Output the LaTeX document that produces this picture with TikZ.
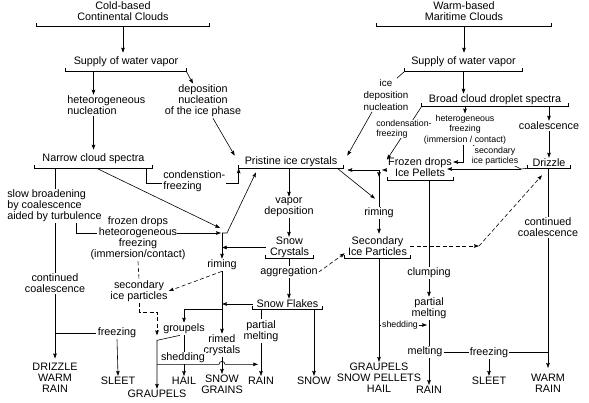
\documentclass[tikz,border=0pt]{standalone}
\usepackage{fontspec}
\setmainfont{Liberation Sans}
\usetikzlibrary{arrows.meta}

\newcommand{\brk}[1]{\draw ([yshift=3pt]#1.south west) -- (#1.south west) -- (#1.south east) -- ([yshift=3pt]#1.south east);}

\begin{document}
\begin{tikzpicture}[x=1pt,y=-1pt,line width=0.6pt,>={Stealth[length=5pt,width=3.6pt,inset=0.8pt]},
  every node/.style={inner sep=1pt,align=center,font=\fontsize{10.8}{11}\selectfont},
  small/.style={font=\fontsize{8.8}{10.5}\selectfont},
  mid/.style={font=\fontsize{9.8}{12}\selectfont},
  onl/.style={fill=white},
  dsh/.style={dash pattern=on 4pt off 2.5pt}]
\useasboundingbox (0,0) rectangle (589,403);

\node [minimum width=172pt,inner ysep=5pt] (cold) at (123,11.5) {Cold-based\\Continental Clouds};
\brk{cold}
\node [minimum width=120pt,inner ysep=4pt] (sup1) at (126,62) {Supply of water vapor};
\brk{sup1}
\node [anchor=west,align=left] (het1) at (66,105.5) {heteorogeneous\\nucleation};
\node (dep1) at (203,101) {deposition\\nucleation\\of the ice phase};
\node [minimum width=117pt,inner ysep=4pt] (nar) at (93.5,159) {Narrow cloud spectra};
\brk{nar}
\node [anchor=west,align=left] (cf) at (162,181) {condenstion-\\freezing};
\node [anchor=west,align=left] (slow) at (6,206) {slow broadening\\by coalescence\\aided by turbulence};
\node (cc1) at (55,283.5) {continued\\coalescence};
\node (dwr) at (55,377.5) {DRIZZLE\\WARM\\RAIN};
\node (fz1) at (117,333) {freezing};
\node (sleet1) at (118,381) {SLEET};
\node (fdh) at (138,238.5) {frozen drops\\heteorogeneous\\freezing\\(immersion/contact)};
\node (secL) at (139,291) {secondary\\ice particles};
\node (graupL) at (157,394) {GRAUPELS};
\node (grp) at (184,329) {groupels};
\node (hail) at (184,381) {HAIL};
\node (rimL) at (222,265) {riming};
\node (rc) at (222,345.5) {rimed\\crystals};
\node (sng) at (222,384.5) {SNOW\\GRAINS};
\node (pmL) at (261,331) {partial\\melting};
\node (rainL) at (261,381) {RAIN};
\node [minimum width=104pt,inner ysep=1pt] (pri) at (291,162) {Pristine ice crystals};
\brk{pri}
\node (vd) at (289,207.5) {vapor\\deposition};
\node [minimum width=47pt,inner ysep=0pt] (sc) at (289.5,247.5) {Snow\\Crystals};
\brk{sc}
\node [minimum width=69pt,inner ysep=1pt] (sf) at (287.5,304) {Snow Flakes};
\brk{sf}
\node (snow) at (314,381) {SNOW};

\node [minimum width=174pt,inner ysep=5pt] (warm) at (464,11.5) {Warm-based\\Maritime Clouds};
\brk{warm}
\node [minimum width=117pt,inner ysep=4pt] (sup2) at (463.5,62) {Supply of water vapor};
\brk{sup2}
\node [mid] (idn) at (386,95) {ice\\deposition\\nucleation};
\node [minimum width=146pt,inner ysep=1pt] (bcs) at (495,100) {Broad cloud droplet spectra};
\brk{bcs}
\node (coal) at (549,126) {coalescence};
\node [minimum width=42pt,inner ysep=1pt] (drz) at (549,163) {Drizzle};
\brk{drz}
\node [minimum width=64pt,inner ysep=3.5pt] (fdi) at (420,167) {Frozen drops\\Ice Pellets};
\brk{fdi}
\node (rimR) at (379,213) {riming};
\node [minimum width=65pt,inner ysep=2.5pt] (sip) at (377.5,246) {Secondary\\Ice Particles};
\brk{sip}
\node (pmR) at (429,308.5) {partial\\melting};
\node (gsh) at (379,378) {GRAUPELS\\SNOW PELLETS\\HAIL};
\node (rainR) at (429,390) {RAIN};
\node (sleetR) at (489,381) {SLEET};
\node (wr) at (548,383.5) {WARM\\RAIN};

\coordinate (jL) at (222,233);
\coordinate (jR) at (379,170);
\coordinate (jD) at (521,169);
\coordinate (kD) at (479,246);
\coordinate (shd) at (400,325);

\draw[->]  (cold.south)  --  (cold.south |- sup1.north);
\draw[->]  (nar.north |- sup1.south)  --  (nar.north |- het1.north);
\draw[->]  (sup1.south east)  --  ([xshift=-10pt]dep1.north);
\draw[->]  (nar.north |- het1.south)  --  (nar.north);
\draw[->]  ([xshift=10pt]dep1.south)  --  ([xshift=-4pt]pri.north west);
\draw  ([xshift=-6pt]nar.south east)  |-  ([yshift=-2pt]cf.west);
\draw[->]  ([yshift=-2pt]cf.east)  -|  (pri.south west);

\draw  (cc1.north |- nar.south)  --  (cc1.north |- slow.north);
\draw  (cc1.north |- slow.south)  --  (cc1.north);
\draw[->]  (cc1.south)  --  ([yshift=3pt]dwr.north);
\draw  (cc1.south |- fz1.west)  --  (fz1.west);
\draw[->]  (fz1.south)  --  (sleet1.north);

\draw[->]  ([xshift=62pt]nar.south west)  --  ([shift={(-2,-5)}]jL);
\draw  ([xshift=70pt]slow.south west)  |-  ([xshift=8pt]fdh.west |- jL);
\draw[->]  ([xshift=-10pt]fdh.east |- jL)  --  ([xshift=-1pt]jL);
\draw[->]  (jL)  --  ++(5,0)  --  ([xshift=-35pt,yshift=-4pt]pri.south);
\draw[->]  (jL)  --  (rimL.north);
\draw[->]  (sc.west)  --  (sc.west -| jL);
\draw[->,dsh]  (rimL.south)  --  (secL.east);
\draw[->]  (rimL.south)  --  (rc.north);
\draw[dsh]  (fdh.south)  --  (secL.north);
\draw[->,dsh]  (secL.south)  --  ++(0,9)  -|  (graupL.north |- grp.south);

\draw[->]  (sf.west)  --  (sf.west -| jL);
\draw[->]  (jL |- sf.south)  -|  (grp.north);
\draw[->]  ([xshift=-4pt]grp.south)  --  ++(-23,5)  --  (graupL.north);
\draw[->]  (grp.south)  --  (hail.north);
\node [onl] (shedL) at (183,358) {shedding};
\draw[->]  (graupL.north |- shedL.south)  --  ([xshift=-3pt]rc.south |- shedL.south)  arc[start angle=180,end angle=0,radius=3pt]  --  ([xshift=-3pt]pmL.south |- shedL.south);
\draw[->]  (rc.south)  --  (sng.north);
\draw  (pmL.north |- sf.south)  --  (pmL.north);
\draw[->]  (pmL.south)  --  (rainL.north);
\draw[->]  (snow.north |- sf.south)  --  (snow.north);

\draw[->]  (vd.north |- pri.south)  --  (vd.north);
\draw[->]  (vd.south)  --  (vd.south |- sc.north);
\draw[->]  (vd.south |- sc.south)  --  (vd.south |- sf.north);
\node [onl] (aggr) at (289,272) {aggregation};
\draw[->,dsh]  (aggr.east)  --  ([yshift=5pt]sip.south west);
\draw[->]  ([xshift=-6pt]pri.south east)  --  ([shift={(-4,-8)}]rimR.north);

\draw[->]  (warm.south)  --  (warm.south |- sup2.north);
\draw  (sup2.south west)  --  ([xshift=11pt]idn.north);
\draw[->]  (sup2.south)  --  (sup2.south |- bcs.north);
\draw[->]  ([xshift=-14pt]idn.south)  --  ([xshift=4pt]pri.north east);
\draw[->]  (bcs.south west)  --  ([yshift=-6pt]fdi.north west);
\node [small,onl,inner sep=0pt,anchor=west,align=left] (cfr) at (376,129) {condensation-\\freezing};
\node [small] (hfr) at (465,129.5) {heterogeneous\\freezing\\(immersion / contact)};
\draw[->]  (hfr.north |- bcs.south)  --  (hfr.north);
\draw[->]  ([xshift=-2pt]hfr.south)  |-  ([yshift=5pt]fdi.east);
\draw[->]  (coal.north |- bcs.south)  --  (coal.north);
\draw[->]  (coal.south)  --  (drz.north);

\draw[->]  (jD)  --  ([xshift=-6pt]fdi.east |- jD);
\draw  (drz.south west)  --  (jD)  --  ([xshift=8pt]hfr.south);
\node [small,onl] (sipr) at (495,156) {secondary\\ice particles};
\draw[->]  (fdi.west |- jR)  --  ([xshift=3pt]jR);
\draw[->]  (jR)  --  ([xshift=4pt]pri.east |- jR);
\draw[->]  (jR)  --  ++(0,7);
\draw  (jR)  --  (rimR.north);
\draw[->]  (rimR.south)  --  (rimR.south |- sip.north);
\draw[->]  (gsh.north |- sip.south)  --  (gsh.north);
\draw[->,dsh]  (sip.east)  --  (kD);
\draw[->,dsh]  (kD)  --  ([xshift=-7pt,yshift=-7pt]drz.south);

\draw[->]  (wr.north |- drz.south)  --  ([yshift=5pt]wr.north);
\node [onl] (ccR) at (548,227.5) {continued\\coalescence};
\draw[->]  (pmR.north |- fdi.south)  --  (pmR.north);
\node [onl] (clump) at (429,273) {clumping};
\draw[->]  (gsh.north |- shd)  --  ([xshift=-2pt]pmR.south |- shd);
\node [small,onl] (shedR) at (shd) {shedding};
\draw[->]  (pmR.south)  --  (rainR.north);
\node [onl] (meltR) at (425,352) {melting};
\draw  (meltR.east)  --  (wr.north |- meltR.east);
\node [onl] (fzR) at (489,353) {freezing};
\draw[->]  (fzR.south)  --  (sleetR.north);

\end{tikzpicture}
\end{document}
